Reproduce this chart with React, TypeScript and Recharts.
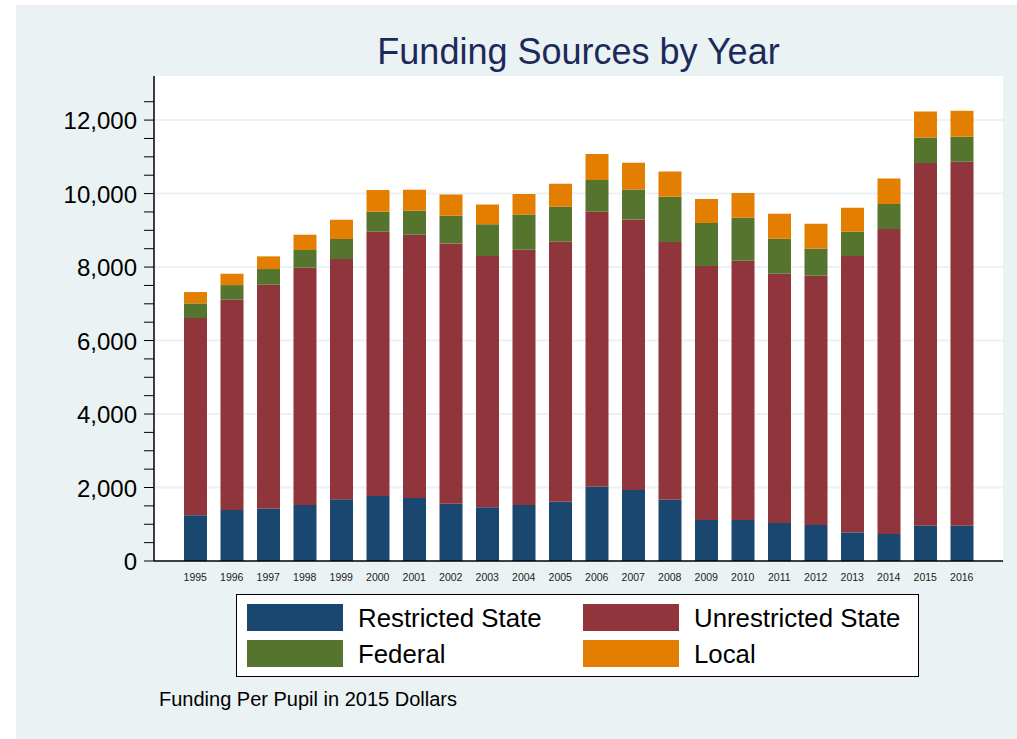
import { FC } from 'react';
import { BarChart, Bar, XAxis, YAxis, CartesianGrid, Legend } from 'recharts';

const years = [
  '1995', '1996', '1997', '1998', '1999', '2000', '2001', '2002', '2003', '2004', '2005',
  '2006', '2007', '2008', '2009', '2010', '2011', '2012', '2013', '2014', '2015', '2016',
];
const restrictedState = [
  1243, 1388, 1424, 1524, 1678, 1769, 1714, 1560, 1460, 1524, 1615,
  2023, 1932, 1669, 1116, 1116, 1034, 980, 780, 735, 961, 961,
];
const unrestrictedState = [
  5369, 5723, 6094, 6458, 6540, 7192, 7166, 7084, 6839, 6947, 7074,
  7483, 7365, 7011, 6911, 7056, 6784, 6784, 7519, 8299, 9869, 9905,
];
const federal = [
  400, 399, 428, 481, 544, 545, 653, 753, 863, 962, 953,
  861, 816, 1233, 1170, 1170, 953, 744, 662, 680, 699, 680,
];
const local = [
  308, 308, 345, 417, 526, 589, 571, 580, 543, 553, 626,
  708, 725, 690, 653, 672, 680, 671, 653, 699, 707, 708,
];

// minor ticks every 500, labels only on the 2000s
const yTicks = [
  0, 500, 1000, 1500, 2000, 2500, 3000, 3500, 4000, 4500, 5000, 5500, 6000,
  6500, 7000, 7500, 8000, 8500, 9000, 9500, 10000, 10500, 11000, 11500, 12000, 12500,
];
const gridValues = [2000, 4000, 6000, 8000, 10000, 12000];

const series = [
  { key: 'restricted', name: 'Restricted State', color: '#1A476F' },
  { key: 'unrestricted', name: 'Unrestricted State', color: '#90353B' },
  { key: 'federal', name: 'Federal', color: '#55752F' },
  { key: 'local', name: 'Local', color: '#E37E00' },
];

const data = years.map((year, i) => ({
  year,
  restricted: restrictedState[i],
  unrestricted: unrestrictedState[i],
  federal: federal[i],
  local: local[i],
}));

const FONT = '"Liberation Sans", Arial, Helvetica, sans-serif';

const YTick = (props: any) => {
  const { x, y, payload } = props;
  if (payload.value % 2000 !== 0) return null;
  return (
    <text x={x} y={y} dy={9} textAnchor="end" fontSize={24} fill="#000" fontFamily={FONT}>
      {payload.value.toLocaleString('en-US')}
    </text>
  );
};

const LegendBox = () => (
  <div
    style={{
      width: 681,
      height: 81,
      border: '1.5px solid #000',
      background: '#fff',
      position: 'relative',
      fontFamily: FONT,
      fontSize: 25.8,
      color: '#000',
    }}
  >
    {series.map((s, i) => {
      const col = i % 2;
      const row = Math.floor(i / 2);
      return (
        <div
          key={s.key}
          style={{
            position: 'absolute',
            left: col === 0 ? 10 : 346,
            top: row === 0 ? 9 : 45,
            display: 'flex',
            alignItems: 'center',
            height: 27,
          }}
        >
          <div style={{ width: 96, height: 27, background: s.color }} />
          <span style={{ marginLeft: 15, lineHeight: '27px', position: 'relative', top: 1 }}>{s.name}</span>
        </div>
      );
    })}
  </div>
);

const App: FC = () => {
  return (
    <div style={{ position: 'absolute', left: 0, top: 0, width: 1017, height: 739, background: '#fff' }}>
      <div style={{ position: 'absolute', left: 16, top: 5, right: 0, bottom: 0, background: '#EAF2F3' }} />
      <div
        style={{
          position: 'absolute',
          left: 154,
          width: 849,
          top: 31,
          textAlign: 'center',
          fontFamily: FONT,
          fontSize: 36,
          color: '#1C2A5A',
        }}
      >
        Funding Sources by Year
      </div>
      <div style={{ position: 'absolute', left: 0, top: 0 }}>
        <BarChart
          width={1017}
          height={739}
          data={data}
          margin={{ top: 76, right: 14, bottom: 148, left: 0 }}
          barSize={23}
        >
          <CartesianGrid
            vertical={false}
            horizontalValues={gridValues}
            stroke="#EAF2F3"
            strokeWidth={2}
            fill="#fff"
          />
          <XAxis
            dataKey="year"
            height={30}
            padding={{ left: 23, right: 23 }}
            tickLine={false}
            axisLine={{ stroke: '#000', strokeWidth: 1.5 }}
            tick={{ fontSize: 10.5, fill: '#222', fontFamily: FONT }}
            tickMargin={7}
            interval={0}
          />
          <YAxis
            width={154}
            domain={[0, 13200]}
            ticks={yTicks}
            interval={0}
            tickSize={10}
            tickMargin={7}
            tickLine={{ stroke: '#000', strokeWidth: 1 }}
            axisLine={{ stroke: '#000', strokeWidth: 1.5 }}
            tick={<YTick />}
            allowDataOverflow
          />
          {series.map((s) => (
            <Bar
              key={s.key}
              dataKey={s.key}
              name={s.name}
              stackId="a"
              fill={s.color}
              isAnimationActive={false}
            />
          ))}
          <Legend
            layout="horizontal"
            verticalAlign="middle"
            align="center"
            wrapperStyle={{ top: 594, left: 236, width: 684 }}
            content={() => <LegendBox />}
          />
        </BarChart>
      </div>
      <div
        style={{
          position: 'absolute',
          left: 159,
          top: 688,
          fontFamily: FONT,
          fontSize: 20,
          color: '#000',
        }}
      >
        Funding Per Pupil in 2015 Dollars
      </div>
    </div>
  );
};

export default App;
